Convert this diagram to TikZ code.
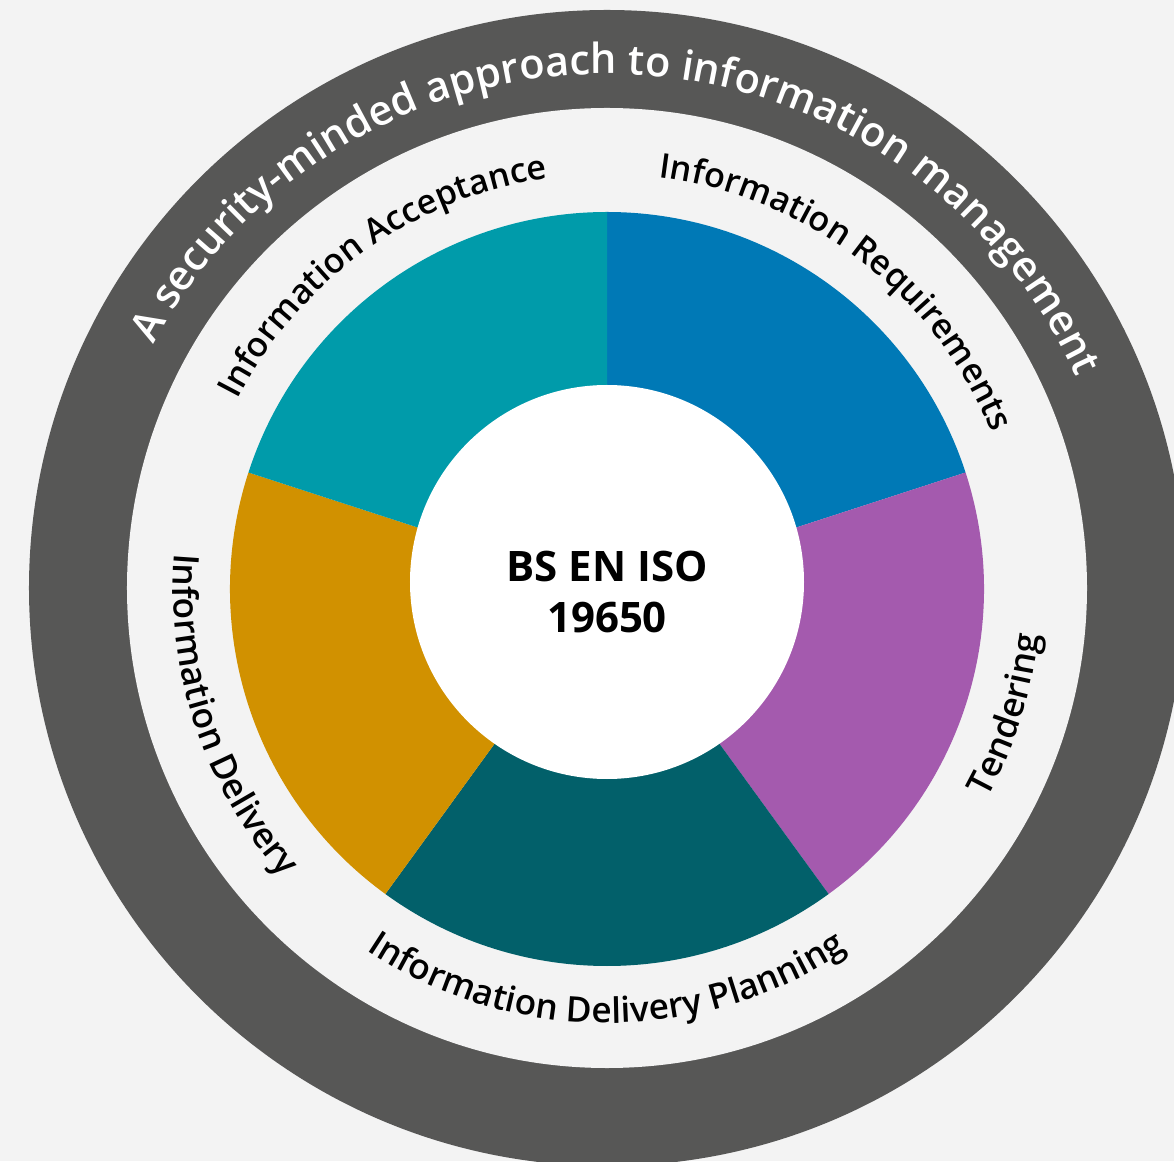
\documentclass[tikz,border=0pt]{standalone}
\usepackage{fontspec}
\setmainfont{Open Sans}
\IfFontExistsTF{Open Sans Semibold}
  {\newfontfamily\lblfont{Open Sans Semibold}}
  {\IfFontExistsTF{Open Sans SemiBold}
     {\newfontfamily\lblfont{Open Sans SemiBold}}
     {\newfontfamily\lblfont[FakeBold=1.2]{Open Sans}}}
\usetikzlibrary{decorations.text}
\definecolor{bg}{HTML}{F3F3F3}
\definecolor{ringgray}{HTML}{575756}
\definecolor{cReq}{HTML}{0079B6}
\definecolor{cTen}{HTML}{A45AAE}
\definecolor{cPlan}{HTML}{02606A}
\definecolor{cDel}{HTML}{D19100}
\definecolor{cAcc}{HTML}{009BAA}
\tikzset{
  toplabel/.style={decorate, decoration={text along path, text align=center,
    text={|\lblfont\fontsize{34.2}{34.2}\selectfont|#1}}},
  lowlabel/.style={decorate, decoration={text along path, text align=center,
    text={|\lblfont\fontsize{35.2}{35.2}\selectfont|#1}}},
  ringlabel/.style={decorate, decoration={text along path, text align=center, text color=white,
    text={|\lblfont\fontsize{41.5}{41.5}\selectfont|#1}}},
  centertext/.style={font=\bfseries\fontsize{42}{42}\selectfont, anchor=base, inner sep=0pt}
}
\begin{document}
\begin{tikzpicture}[x=1pt,y=1pt]
\useasboundingbox (-607,-572) rectangle (567,589);
\fill[bg] (-607,-572) rectangle (567,589);
\begin{scope}
  \clip (-607,-572) rectangle (567,589);
  \fill[ringgray] (0,1) circle (578);
\end{scope}
\fill[bg] (0,1) circle (480);
% segments
\fill[cReq]  (0,0) -- (90:377) arc (90:18:377) -- cycle;
\fill[cTen]  (0,0) -- (18:377) arc (18:-54:377) -- cycle;
\fill[cPlan] (0,0) -- (-54:377) arc (-54:-126:377) -- cycle;
\fill[cDel]  (0,0) -- (-126:377) arc (-126:-198:377) -- cycle;
\fill[cAcc]  (0,0) -- (162:377) arc (162:90:377) -- cycle;
\fill[white] (0,7) circle (197);
% centre text
\node[centertext] (line1) at (0,7) {BS EN ISO};
\node[centertext] (line2) at (0,-44) {19650};
% segment labels
\path[toplabel={Information Requirements}] (92.5:415) arc (92.5:12.5:415);
\path[toplabel={Information Acceptance}] (165.5:415) arc (165.5:85.5:415);
\path[lowlabel={Tendering}] (-57.5:434) arc (-57.5:22.5:434);
\path[lowlabel={Information Delivery Planning}] (-140:434) arc (-140:-40:434);
\path[lowlabel={Information Delivery}] (150.5:434) arc (150.5:246.5:434);
% ring label
\path[ringlabel={A security-minded approach to information management}] (164:515) arc (164:12:515);
\end{tikzpicture}
\end{document}
